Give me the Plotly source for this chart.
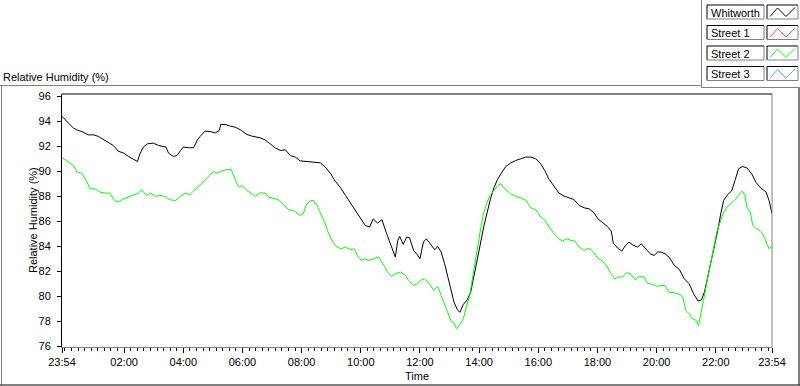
import datetime as dt
import plotly.graph_objects as go

# ---- data (minutes after 23:54, relative humidity %) ----
whit_min = [0, 3, 13, 23, 30, 43, 53, 64, 74, 84, 94, 104, 114, 125, 135, 145, 153, 158, 165, 173,
            185, 196, 211, 216, 226, 233, 240, 246, 257, 267, 274, 280, 290, 300, 311, 319, 322, 331,
            341, 351, 362, 375, 385, 402, 412, 422, 433, 443, 453, 463, 473, 483, 504, 524, 534, 544,
            554, 565, 575, 585, 595, 605, 615, 624, 631, 640, 649, 658, 666, 673, 676, 681, 685, 692,
            699, 705, 713, 720, 726, 733, 739, 747, 756, 762, 769, 776, 783, 789, 795, 802, 807, 814,
            822, 829, 835, 842, 849, 856, 863, 869, 876, 883, 890, 900, 910, 920, 930, 940, 951, 961,
            971, 979, 988, 998, 1008, 1018, 1028, 1038, 1049, 1059, 1069, 1079, 1087, 1096, 1106,
            1114, 1118, 1127, 1135, 1143, 1150, 1157, 1167, 1175, 1184, 1193, 1201, 1208, 1215, 1223,
            1231, 1242, 1252, 1262, 1272, 1281, 1290, 1297, 1303, 1309, 1316, 1323, 1330, 1336, 1342,
            1350, 1358, 1365, 1372, 1380, 1389, 1399, 1407, 1417, 1428, 1434, 1440]
whit_val = [94.4, 94.30, 93.87, 93.49, 93.33, 93.15, 92.93, 92.93, 92.8, 92.56, 92.35, 92.08, 91.63,
            91.47, 91.2, 90.96, 90.8, 91.41, 91.95, 92.21, 92.27, 92.08, 91.95, 91.47, 91.2, 91.28,
            91.68, 91.95, 91.9, 91.9, 92.48, 92.8, 93.23, 93.2, 93.09, 93.28, 93.76, 93.76, 93.63,
            93.55, 93.33, 92.96, 92.83, 92.69, 92.53, 92.21, 91.87, 91.68, 91.73, 91.28, 91.15, 90.85,
            90.75, 90.69, 90.35, 89.87, 89.23, 88.69, 88.08, 87.49, 86.93, 86.27, 85.68, 85.55, 86.21,
            85.87, 86.13, 85.07, 84.21, 83.36, 83.15, 84.48, 84.8, 84.16, 84.75, 84.69, 83.68, 83.36,
            83.01, 84.35, 84.61, 84.21, 83.73, 84.0, 83.55, 82.61, 81.55, 80.48, 79.55, 78.93, 78.72,
            79.36, 79.73, 80.35, 81.55, 82.93, 84.48, 85.68, 86.83, 87.81, 88.69, 89.33, 89.81, 90.4,
            90.67, 90.88, 91.01, 91.15, 91.15, 91.01, 90.61, 90.08, 89.36, 88.8, 88.27, 88.03, 87.87,
            87.76, 87.28, 87.09, 87.01, 86.69, 86.21, 85.95, 85.6, 85.23, 84.27, 83.87, 83.63, 84.08,
            84.35, 84.13, 83.95, 84.21, 83.81, 83.41, 83.28, 83.55, 83.55, 83.41, 83.15, 82.48, 82.16,
            81.41, 81.01, 80.21, 79.63, 79.73, 80.35, 81.41, 82.61, 83.95, 85.28, 86.61, 87.68, 88.16,
            88.43, 89.28, 90.21, 90.4, 90.29, 89.81, 89.15, 88.69, 88.35, 87.68, 86.61]

st2_min = [0, 3, 13, 23, 31, 40, 49, 57, 67, 77, 87, 97, 106, 114, 125, 135, 145, 155, 162, 171, 180,
           189, 199, 209, 219, 230, 240, 250, 259, 270, 280, 290, 300, 307, 315, 324, 335, 343, 349,
           355, 360, 365, 375, 385, 392, 402, 412, 419, 429, 439, 449, 460, 470, 478, 483, 489, 496,
           504, 510, 517, 525, 534, 541, 549, 558, 566, 575, 585, 593, 599, 607, 612, 622, 632, 642,
           651, 659, 668, 676, 686, 697, 703, 713, 720, 727, 735, 744, 754, 762, 769, 776, 783, 789,
           795, 800, 807, 814, 821, 827, 834, 841, 848, 854, 861, 868, 876, 884, 890, 900, 910, 920,
           930, 940, 951, 961, 971, 979, 988, 998, 1008, 1015, 1024, 1032, 1040, 1049, 1059, 1069,
           1078, 1086, 1096, 1105, 1113, 1121, 1130, 1137, 1145, 1153, 1162, 1170, 1180, 1187, 1197,
           1208, 1215, 1223, 1231, 1242, 1252, 1259, 1265, 1272, 1279, 1286, 1291, 1296, 1301, 1308,
           1315, 1322, 1328, 1335, 1342, 1350, 1358, 1367, 1374, 1380, 1385, 1389, 1396, 1401, 1408,
           1414, 1421, 1428, 1434, 1440]
st2_val = [91.1, 91.01, 90.75, 90.48, 89.95, 89.87, 89.28, 88.61, 88.61, 88.35, 88.27, 88.27, 87.68,
           87.55, 87.81, 87.95, 88.08, 88.27, 88.53, 88.08, 88.27, 88.0, 88.08, 88.0, 87.73, 87.68,
           88.0, 88.27, 88.13, 88.53, 88.88, 89.28, 89.68, 90.0, 89.87, 90.03, 90.16, 90.16, 89.55,
           89.01, 88.75, 88.88, 88.48, 88.21, 88.0, 88.29, 88.27, 87.95, 87.87, 87.73, 87.36, 86.93,
           86.88, 86.67, 86.48, 86.61, 87.36, 87.68, 87.68, 87.28, 86.61, 85.81, 85.01, 84.35, 83.95,
           83.81, 83.95, 83.73, 83.81, 83.28, 82.88, 83.01, 82.88, 83.01, 83.15, 82.61, 82.03, 81.6,
           81.81, 81.95, 81.68, 81.28, 80.88, 81.01, 81.28, 81.41, 81.07, 80.48, 80.8, 80.08, 79.36,
           78.75, 78.03, 77.87, 77.41, 77.76, 78.21, 79.28, 80.08, 81.81, 83.68, 85.15, 86.48, 87.41,
           88.08, 88.53, 88.88, 89.01, 88.53, 88.21, 88.0, 87.9, 87.73, 87.09, 86.93, 86.35, 86.13,
           85.55, 85.01, 84.61, 84.43, 84.61, 84.48, 84.43, 83.95, 83.68, 83.87, 83.55, 83.09, 82.83,
           82.43, 81.81, 81.41, 81.55, 81.55, 81.9, 81.81, 81.33, 81.55, 81.6, 81.07, 80.96, 80.8,
           80.88, 80.88, 80.35, 80.29, 80.16, 79.95, 78.88, 78.61, 78.21, 78.08, 77.68, 78.61, 79.68,
           81.15, 82.48, 83.95, 85.15, 85.95, 86.75, 87.2, 87.47, 87.81, 88.21, 88.43, 88.08, 87.15,
           86.75, 85.68, 85.41, 85.28, 85.01, 84.35, 83.81, 84.08]

series_names = ["Whitworth", "Street 1", "Street 2", "Street 3"]
series_colors = ["#000000", "#ff5050", "#00ff00", "#50b4ff"]
y_ticks = [76, 78, 80, 82, 84, 86, 88, 90, 92, 94, 96]
x_tick_labels = ["23:54", "02:00", "04:00", "06:00", "08:00", "10:00", "12:00",
                 "14:00", "16:00", "18:00", "20:00", "22:00", "23:54"]

start = dt.datetime(2000, 1, 1, 23, 54)
end = start + dt.timedelta(hours=24)
whit_t = [start + dt.timedelta(minutes=m) for m in whit_min]
st2_t = [start + dt.timedelta(minutes=m) for m in st2_min]

x_tick_vals = [start] + [dt.datetime(2000, 1, 2, h) for h in range(2, 23, 2)] + [end]

FONT = "Liberation Sans, Arial, sans-serif"

fig = go.Figure()
fig.add_trace(go.Scatter(x=whit_t, y=whit_val, mode="lines", name="Whitworth",
                         line=dict(color=series_colors[0], width=1)))
fig.add_trace(go.Scatter(x=st2_t, y=st2_val, mode="lines", name="Street 2",
                         line=dict(color=series_colors[2], width=1)))

# plot area in pixels: x 62..772, y 94..347
L, R, T, B = 62, 772, 94, 347
def PX(x):
    return (x - L) / (R - L)
def PY(y):
    return (B - y) / (B - T)

shapes = []
def line(x0, y0, x1, y1, color, w=1):
    shapes.append(dict(type="line", xref="paper", yref="paper", x0=PX(x0), y0=PY(y0),
                       x1=PX(x1), y1=PY(y1), line=dict(color=color, width=w)))

# outer panel borders
line(0, 85.5, 701, 85.5, "#808080")
line(1.5, 85.5, 1.5, 385, "#808080")
line(0, 385, 800, 385, "#000000")
line(799, 87, 799, 385, "#000000")
line(701.5, 0, 701.5, 87.5, "#808080")
line(701, 87.5, 800, 87.5, "#808080")

# plot frame
line(L, T, R, T, "#000000")
line(R, T, R, B, "#808080")

# legend
annotations = []
row_tops = [5, 25.5, 46, 66.5]
for i, name in enumerate(series_names):
    t = row_tops[i]
    b = t + 14
    for (x0, x1) in [(707, 764), (767, 798)]:
        line(x0, t, x1, t, "#000000")
        line(x0, t, x0, b, "#000000")
        line(x1, t, x1, b, "#808080")
        line(x0, b, x1, b, "#808080")
    # sample zig-zag
    pts = [(770, b - 2.5), (777.5, t + 3), (786, b - 2.5), (795, t + 2.5)]
    path = "M " + " L ".join(f"{PX(a)},{PY(c)}" for a, c in pts)
    shapes.append(dict(type="path", xref="paper", yref="paper", path=path,
                       line=dict(color=series_colors[i], width=1)))
    annotations.append(dict(text=name, xref="paper", yref="paper", x=PX(709), y=PY(t + 7.5),
                            xanchor="left", yanchor="middle", showarrow=False,
                            font=dict(family=FONT, size=11, color="#000000")))

annotations.append(dict(text="Relative Humidity (%)", xref="paper", yref="paper", x=PX(1), y=PY(77),
                        xanchor="left", yanchor="middle", showarrow=False,
                        font=dict(family=FONT, size=11, color="#000000")))
annotations.append(dict(text="Relative Humidity (%)", xref="paper", yref="paper", x=PX(33), y=PY(220),
                        xanchor="center", yanchor="middle", textangle=-90, showarrow=False,
                        font=dict(family=FONT, size=11, color="#000000")))
annotations.append(dict(text="Time", xref="paper", yref="paper", x=PX(417), y=PY(376),
                        xanchor="center", yanchor="middle", showarrow=False,
                        font=dict(family=FONT, size=11, color="#000000")))

fig.update_layout(
    width=800, height=386,
    margin=dict(l=L, r=800 - R, t=T, b=386 - B, pad=0),
    paper_bgcolor="#ffffff", plot_bgcolor="#ffffff",
    showlegend=False,
    font=dict(family=FONT, size=11, color="#000000"),
    shapes=shapes, annotations=annotations,
    xaxis=dict(type="date", range=[start, end], tickmode="array", tickvals=x_tick_vals,
               ticktext=x_tick_labels, ticks="outside", ticklen=5, tickcolor="#000000",
               showgrid=False, zeroline=False, showline=True, linecolor="#808080", linewidth=1,
               tickfont=dict(family=FONT, size=11, color="#000000"),
               minor=dict(tickmode="linear", tick0=dt.datetime(2000, 1, 2, 0, 0), dtick=800000,
                          ticks="outside", ticklen=3, tickcolor="#000000", showgrid=False)),
    yaxis=dict(range=[75.95, 96.2], tickmode="array", tickvals=y_ticks,
               ticks="outside", ticklen=4, tickcolor="#000000", ticklabelstandoff=4,
               showgrid=False, zeroline=False, showline=True, linecolor="#000000", linewidth=1,
               tickfont=dict(family=FONT, size=11, color="#000000")),
)

fig.write_html("out.html", config={"displayModeBar": False},
               post_script="document.body.style.margin='0';document.body.style.overflow='hidden';")
